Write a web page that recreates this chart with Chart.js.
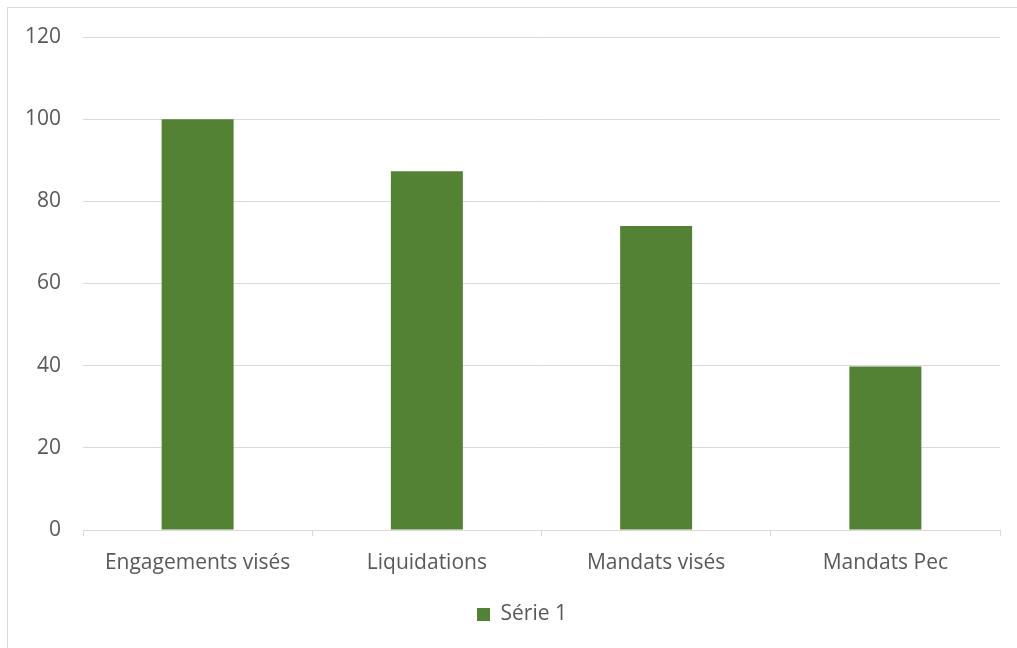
<!DOCTYPE html>
<html>
<head>
<meta charset="utf-8">
<script src="https://cdn.jsdelivr.net/npm/chart.js@4/dist/chart.umd.min.js"></script>
<style>
  html, body { margin: 0; padding: 0; background: #fff; overflow: hidden; }
  #frame { position: absolute; left: 7px; top: 7px; width: 1100px; height: 700px; border: 1px solid #d9d9d9; }
  #wrap { position: absolute; left: 0; top: 0; width: 1017px; height: 648px; }
</style>
</head>
<body>
<div id="frame"></div>
<div id="wrap"><canvas id="chart"></canvas></div>
<script>
// values
const categories = ['Engagements visés', 'Liquidations', 'Mandats visés', 'Mandats Pec'];
const serie1     = [100, 87.3, 74, 39.8];
const seriesName = 'Série 1';

const textColor = '#595959';
const gridColor = '#d9d9d9';
const font = { family: "'Open Sans', 'Liberation Sans', sans-serif", size: 21 };

// legend in the reference sits a bit right of centre
const shiftLegend = {
  id: 'shiftLegend',
  afterLayout(chart) { if (chart.legend) chart.legend.left += 44; }
};

new Chart(document.getElementById('chart').getContext('2d'), {
  type: 'bar',
  data: {
    labels: categories,
    datasets: [{
      label: seriesName,
      data: serie1,
      backgroundColor: '#548235',
      borderWidth: 0,
      barPercentage: 0.314,
      categoryPercentage: 1,
    }]
  },
  options: {
    responsive: true, maintainAspectRatio: false,
    animation: false,
    devicePixelRatio: 1,
    layout: { padding: { top: 37, right: 17, bottom: 13, left: 0 } },
    plugins: {
      tooltip: { enabled: false },
      legend: {
        position: 'bottom',
        labels: { color: textColor, font, boxWidth: 13, boxHeight: 13, padding: 10 }
      }
    },
    scales: {
      x: {
        grid: { drawOnChartArea: false, drawTicks: true, tickLength: 6, color: gridColor, offset: true },
        border: { color: gridColor },
        ticks: { color: textColor, font, padding: 14, maxRotation: 0 },
        afterFit: s => { s.height = 64; }
      },
      y: {
        min: 0, max: 120,
        grid: { color: gridColor, drawTicks: false },
        border: { display: false },
        ticks: { color: textColor, font, stepSize: 20, padding: 22 },
        afterFit: s => { s.width = 83; }
      }
    }
  },
  plugins: [shiftLegend]
});
</script>
</body>
</html>
